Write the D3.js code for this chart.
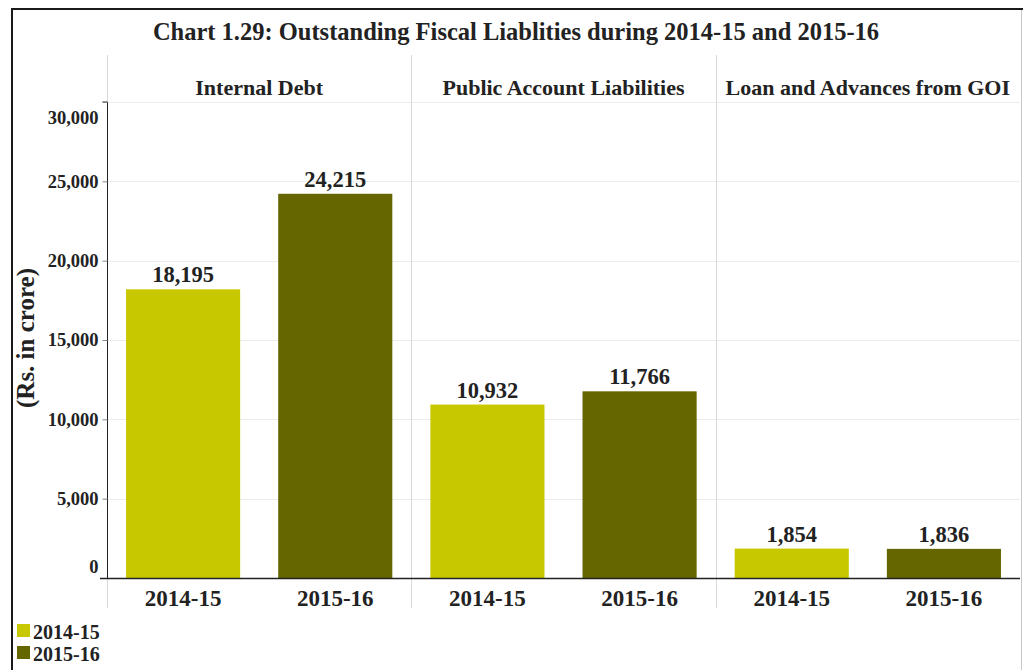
<!DOCTYPE html>
<html>
<head>
<meta charset="utf-8">
<script src="https://cdn.jsdelivr.net/npm/d3@7"></script>
<style>
  html, body { margin: 0; padding: 0; background: #fff; }
  svg text { font-family: "Liberation Serif", "Times New Roman", serif; font-weight: bold; fill: #222; }
</style>
</head>
<body>
<svg id="chart" width="1024" height="670"></svg>
<script>
// Outstanding fiscal liabilities (Rs. in crore)
const groups = ["Internal Debt", "Public Account Liabilities", "Loan and Advances from GOI"];
const years = ["2014-15", "2015-16"];
const values2014 = [18195, 10932, 1854];
const values2015 = [24215, 11766, 1836];
const yTicks = [0, 5000, 10000, 15000, 20000, 25000, 30000];
const colors = ["#c8c800", "#666600"];

const svg = d3.select("#chart");
const W = 1024, H = 670;
const plotLeft = 107, plotRight = 1020, plotTop = 102, plotBottom = 578;

// outer frame
svg.append("path")
  .attr("d", `M12,${H} L12,9 L1023,9`)
  .attr("fill", "none").attr("stroke", "#1a1a1a").attr("stroke-width", 2);
svg.append("line")
  .attr("x1", 1021.5).attr("x2", 1021.5).attr("y1", 10).attr("y2", H)
  .attr("stroke", "#c8c8c8").attr("stroke-width", 1);

// title
svg.append("text")
  .attr("x", 516).attr("y", 40)
  .attr("text-anchor", "middle")
  .style("font-size", "24.5px")
  .text("Chart 1.29: Outstanding Fiscal Liablities during 2014-15 and 2015-16");

const y = d3.scaleLinear().domain([0, 30000]).range([plotBottom, plotTop]);
const gx = d3.scaleBand().domain(groups).range([plotLeft, plotRight]);
const x = d3.scaleBand().domain(years).range([0, gx.bandwidth()]).paddingInner(0.25).paddingOuter(0.125);

// gridlines
svg.append("g").selectAll("line").data(yTicks.slice(1)).join("line")
  .attr("x1", plotLeft).attr("x2", plotRight)
  .attr("y1", d => Math.round(y(d)) + 0.5).attr("y2", d => Math.round(y(d)) + 0.5)
  .attr("stroke", "#ececec").attr("stroke-width", 1);

// panel separators
svg.append("g").selectAll("line").data(groups).join("line")
  .attr("x1", d => Math.round(gx(d)) + 0.5).attr("x2", d => Math.round(gx(d)) + 0.5)
  .attr("y1", 55).attr("y2", 608)
  .attr("stroke", "#d8d8e0").attr("stroke-width", 1);

// panel headers
svg.append("g").selectAll("text").data(groups).join("text")
  .attr("x", d => gx(d) + gx.bandwidth() / 2)
  .attr("y", 95)
  .attr("text-anchor", "middle")
  .style("font-size", "22px")
  .text(d => d);

// bars
const rows = groups.map((g, i) => [
  { group: g, year: years[0], value: values2014[i], c: colors[0] },
  { group: g, year: years[1], value: values2015[i], c: colors[1] }
]).flat();

svg.append("g").selectAll("rect").data(rows).join("rect")
  .attr("x", d => gx(d.group) + x(d.year))
  .attr("width", x.bandwidth())
  .attr("y", d => y(d.value))
  .attr("height", d => y(0) - y(d.value))
  .attr("fill", d => d.c);

// value labels
svg.append("g").selectAll("text").data(rows).join("text")
  .attr("x", d => gx(d.group) + x(d.year) + x.bandwidth() / 2)
  .attr("y", d => y(d.value) - 7)
  .attr("text-anchor", "middle")
  .style("font-size", "22.5px")
  .text(d => d3.format(",")(d.value));

// category labels
svg.append("g").selectAll("text").data(rows).join("text")
  .attr("x", d => gx(d.group) + x(d.year) + x.bandwidth() / 2)
  .attr("y", 606)
  .attr("text-anchor", "middle")
  .style("font-size", "23px")
  .text(d => d.year);

// y axis
const yAxis = svg.append("g")
  .attr("transform", `translate(${plotLeft + 0.5},0)`)
  .call(d3.axisLeft(y).tickValues(yTicks).tickFormat(d3.format(",")).tickSize(5).tickPadding(4));
yAxis.select(".domain").attr("stroke", "#222").attr("d", `M-5,${plotTop}H0V${plotBottom}`);
yAxis.selectAll(".tick line").attr("stroke", "#888");
yAxis.selectAll(".tick text")
  .style("font-size", "18.5px")
  .style("font-family", "Liberation Serif, serif")
  .attr("fill", "#222")
  .attr("dy", d => d === 0 ? "-0.3em" : d === 30000 ? "1.15em" : "0.32em");

// baseline
svg.append("line")
  .attr("x1", 100).attr("x2", plotRight)
  .attr("y1", plotBottom + 0.5).attr("y2", plotBottom + 0.5)
  .attr("stroke", "#222").attr("stroke-width", 1.5);

// y axis title
svg.append("text")
  .attr("transform", `translate(34,338) rotate(-90)`)
  .attr("text-anchor", "middle")
  .style("font-size", "25px")
  .text("(Rs. in crore)");

// legend
const lg = svg.append("g").selectAll("g").data(years).join("g")
  .attr("transform", (d, i) => `translate(17,${624 + i * 22})`);
lg.append("rect").attr("width", 13).attr("height", 13).attr("fill", (d, i) => colors[i]);
lg.append("text").attr("x", 16).attr("y", 15).style("font-size", "20px").attr("fill", "#333").text(d => d);
</script>
</body>
</html>
